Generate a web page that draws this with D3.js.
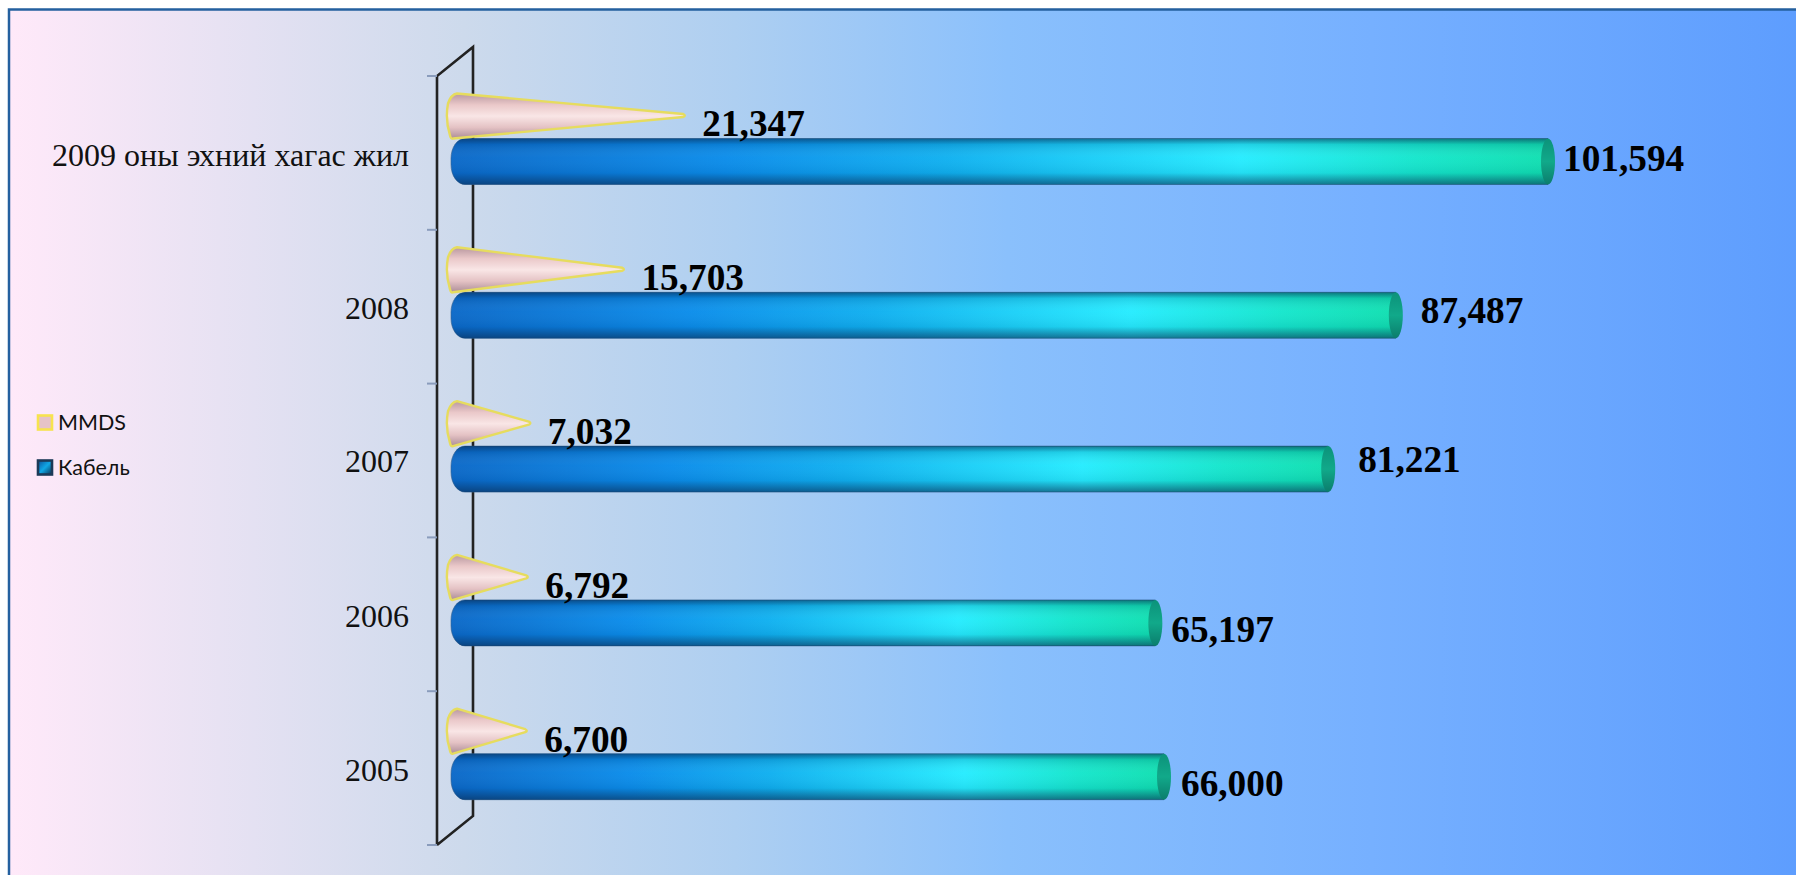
<!DOCTYPE html>
<html>
<head>
<meta charset="utf-8">
<script src="https://cdn.jsdelivr.net/npm/d3@7"></script>
<style>
html, body { margin: 0; padding: 0; background: #fff; overflow: hidden; }
svg { display: block; }
</style>
</head>
<body>
<script>
// chart values, top row of the chart first
const categories = ["2009 оны эхний хагас жил", "2008", "2007", "2006", "2005"];
const seriesNames = ["MMDS", "Кабель"];
const mmdsValues = [21347, 15703, 7032, 6792, 6700];
const cableValues = [101594, 87487, 81221, 65197, 66000];

// the value labels were moved by hand in the original, so they each have a nudge
const cableLabelDx = [8, 18, 23, 9, 10];
const cableLabelDy = [-3, -5, -9, 7, 7];
const categoryLabelDy = [3, 2, 1, 2, 3];

const width = 1796, height = 875;

const svg = d3.select("body").append("svg")
    .attr("width", width)
    .attr("height", height);
const defs = svg.append("defs");

function addGradient(id, stops, vertical) {
    const g = defs.append("linearGradient").attr("id", id)
        .attr("x1", 0).attr("y1", 0)
        .attr("x2", vertical ? 0 : 1).attr("y2", vertical ? 1 : 0);
    stops.forEach(s => g.append("stop")
        .attr("offset", s[0])
        .attr("stop-color", s[1])
        .attr("stop-opacity", s.length > 2 ? s[2] : 1));
    return g;
}

addGradient("bgGrad", [[0, "#ffe9f9"], [0.25, "#cddaec"], [0.4, "#aecff1"], [0.55, "#8ac0fc"], [0.75, "#76b0ff"], [1, "#5c9cfe"]]);
addGradient("cableGrad", [[0, "#0a68c8"], [0.25, "#0a8cea"], [0.45, "#0fb0f0"], [0.72, "#25ecff"], [0.88, "#14e6cc"], [1, "#0fdfb0"]]);
addGradient("cableShade", [[0, "#0a2a50", 0.6], [0.13, "#0a2a50", 0.14], [0.42, "#ffffff", 0.03], [0.75, "#0a2a50", 0.08], [1, "#0a2a50", 0.6]], true);
addGradient("coneGrad", [[0, "#b8979f"], [0.25, "#eac8c9"], [0.5, "#f9e6e6"], [0.75, "#e4c2c4"], [1, "#ab8c96"]], true);
addGradient("capGrad", [[0, "#0c927a"], [0.5, "#11a98a"], [1, "#0b7d6c"]], true);
addGradient("keyBlue", [[0, "#0a4f9a"], [0.5, "#10a8e6"], [1, "#0a3050"]]).attr("x2", 1).attr("y2", 1);

// background panel, runs off the right and bottom of the page
svg.append("rect")
    .attr("x", 9).attr("y", 9.5)
    .attr("width", width + 20).attr("height", height + 20)
    .attr("fill", "url(#bgGrad)")
    .attr("stroke", "#24609f")
    .attr("stroke-width", 2.5);

// scales
const y = d3.scaleBand().domain(categories).range([76, 845]);
const ySeries = d3.scaleBand().domain(seriesNames).range([16.5, 108.5]);
const x = d3.scaleLinear().domain([0, 101594]).range([459, 1555]);

const floorX = 437, depthX = 36, depthY = 29;

// 3d wall behind the bars
const wall = svg.append("g").attr("fill", "none").attr("stroke", "#222").attr("stroke-width", 2.6);
wall.append("path")
    .attr("d", `M${floorX},${y.range()[1]}V${y.range()[0]}l${depthX},${-depthY}V${y.range()[1] - depthY}L${floorX},${y.range()[1]}`);

// category axis
const axis = d3.axisLeft(y).tickSize(0).tickPadding(28);
const axisG = svg.append("g")
    .attr("transform", `translate(${floorX},0)`)
    .call(axis);
axisG.select(".domain").remove();
axisG.selectAll("text")
    .attr("font-family", "'Liberation Serif', 'Times New Roman', serif")
    .attr("font-size", 32)
    .attr("fill", "#111")
    .attr("dy", "0.32em");
// the labels sit a little below the band centre
axisG.selectAll(".tick text").attr("transform", (d, i) => `translate(0,${categoryLabelDy[i]})`);

// tick marks on band edges
svg.append("g").selectAll("line")
    .data(d3.range(categories.length + 1))
    .join("line")
    .attr("x1", floorX - 10).attr("x2", floorX)
    .attr("y1", i => y.range()[0] + i * y.step())
    .attr("y2", i => y.range()[0] + i * y.step())
    .attr("stroke", "#8a9cbc")
    .attr("stroke-width", 2);

const labelFont = "'Liberation Serif', 'Times New Roman', serif";

// cable cylinders
const capRx = 7;
const cable = svg.append("g").selectAll("g")
    .data(categories)
    .join("g")
    .attr("transform", d => `translate(0,${y(d) + ySeries("Кабель")})`);

function cablePath(v, h) {
    const rx = 14, ry = 20, left = x(0) - 8, right = x(v) - capRx;
    return `M${left + rx},0H${right}V${h}H${left + rx}A${rx},${ry} 0 0 1 ${left},${h - ry}V${ry}A${rx},${ry} 0 0 1 ${left + rx},0Z`;
}
cable.append("path")
    .attr("d", (d, i) => cablePath(cableValues[i], ySeries.bandwidth()))
    .attr("fill", "url(#cableGrad)")
    .attr("stroke", "#33608f")
    .attr("stroke-opacity", 0.6);
cable.append("path")
    .attr("d", (d, i) => cablePath(cableValues[i], ySeries.bandwidth()))
    .attr("fill", "url(#cableShade)");
cable.append("ellipse")
    .attr("cx", (d, i) => x(cableValues[i]) - capRx)
    .attr("cy", ySeries.bandwidth() / 2)
    .attr("rx", capRx)
    .attr("ry", ySeries.bandwidth() / 2)
    .attr("fill", "url(#capGrad)");

// mmds cones
const coneTipInset = 6;
const cone = svg.append("g").selectAll("path")
    .data(categories)
    .join("path")
    .attr("transform", d => `translate(0,${y(d) + ySeries("MMDS")})`)
    .attr("d", (d, i) => {
        const h = ySeries.bandwidth(), tip = x(mmdsValues[i]) - coneTipInset, left = x(0) - 2;
        const mid = h / 2;
        return `M${left},1L${tip},${mid - 1.5}Q${tip + 3},${mid} ${tip},${mid + 1.5}L${left - 4},${h}` +
            `Q${left - 6},${h + 1} ${left - 7},${h - 3}Q${left - 12},${mid + 4} ${left - 9},${mid - 12}Q${left - 6},${2} ${left},1Z`;
    })
    .attr("fill", "url(#coneGrad)")
    .attr("stroke", "#e6dc5e")
    .attr("stroke-width", 2.4)
    .attr("stroke-linejoin", "round");

// value labels
svg.append("g").selectAll("text")
    .data(categories)
    .join("text")
    .attr("x", (d, i) => x(mmdsValues[i]) + 13)
    .attr("y", d => y(d) + ySeries("MMDS") + ySeries.bandwidth() / 2 + 8.5)
    .attr("dy", "0.33em")
    .attr("font-family", labelFont)
    .attr("font-weight", "bold")
    .attr("font-size", 37.3)
    .attr("fill", "#000")
    .text((d, i) => d3.format(",")(mmdsValues[i]));

svg.append("g").selectAll("text")
    .data(categories)
    .join("text")
    .attr("x", (d, i) => x(cableValues[i]) + cableLabelDx[i])
    .attr("y", (d, i) => y(d) + ySeries("Кабель") + ySeries.bandwidth() / 2 + cableLabelDy[i])
    .attr("dy", "0.33em")
    .attr("font-family", labelFont)
    .attr("font-weight", "bold")
    .attr("font-size", 37.3)
    .attr("fill", "#000")
    .text((d, i) => d3.format(",")(cableValues[i]));

// legend
const legendY = d3.scalePoint().domain(seriesNames).range([422.5, 467.5]);
const legend = svg.append("g").selectAll("g")
    .data(seriesNames)
    .join("g")
    .attr("transform", d => `translate(37,${legendY(d)})`);
legend.append("rect")
    .attr("x", 1).attr("y", -7)
    .attr("width", 14).attr("height", 14)
    .attr("fill", d => d === "MMDS" ? "#e6c3c8" : "url(#keyBlue)")
    .attr("stroke", d => d === "MMDS" ? "#f7e34f" : "#1c3a58")
    .attr("stroke-width", 2.6);
legend.append("text")
    .attr("x", 21)
    .attr("dy", "0.36em")
    .attr("font-family", "Lato, 'Noto Sans', sans-serif")
    .attr("font-size", 21.5)
    .attr("fill", "#111")
    .text(d => d);
</script>
</body>
</html>
